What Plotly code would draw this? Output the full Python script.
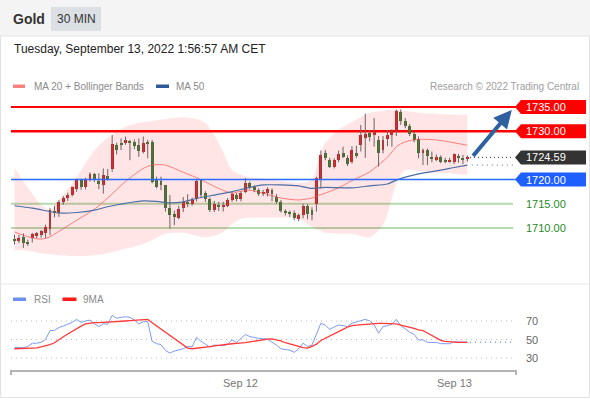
import plotly.graph_objects as go

W, H = 590, 400

# ---------------- data ----------------
open_ = [1707.6, 1707.4, 1708.2, 1707.2, 1708.0, 1708.3, 1708.5, 1708.9, 1709.9, 1713.6,
         1713.0, 1715.4, 1716.1, 1716.8, 1718.0, 1719.9, 1718.4, 1720.1, 1721.1, 1719.7,
         1718.9, 1720.7, 1722.1, 1727.2, 1727.6, 1727.5, 1727.8, 1727.8, 1727.2, 1725.8,
         1727.6, 1727.8, 1719.9, 1719.8, 1718.9, 1714.2, 1712.9, 1712.1, 1714.1, 1715.2,
         1715.0, 1716.0, 1719.9, 1717.2, 1715.9, 1713.7, 1714.7, 1714.5, 1714.6, 1715.7,
         1716.8, 1715.9, 1717.5, 1719.2, 1718.4, 1717.9, 1717.0, 1717.2, 1717.9, 1716.5,
         1715.4, 1713.5, 1713.2, 1713.2, 1711.9, 1712.7, 1714.5, 1713.7, 1714.9, 1720.0,
         1725.4, 1724.1, 1722.7, 1724.0, 1725.5, 1724.5, 1723.6, 1725.6, 1727.2, 1728.5,
         1729.6, 1729.3, 1728.2, 1726.1, 1728.4, 1729.3, 1730.3, 1734.0, 1732.2, 1731.1,
         1729.4, 1728.4, 1725.4, 1726.2, 1724.6, 1724.2, 1724.6, 1724.0, 1723.8, 1723.6,
         1724.9, 1724.5, 1724.3]
high = [1708.6, 1708.6, 1708.9, 1707.6, 1709.0, 1709.2, 1709.6, 1710.7, 1714.1, 1714.6,
        1715.8, 1716.6, 1717.3, 1718.6, 1720.2, 1720.2, 1720.4, 1721.5, 1721.4, 1721.3,
        1722.3, 1722.2, 1729.2, 1727.6, 1728.5, 1728.9, 1728.2, 1728.3, 1728.5, 1728.9,
        1728.2, 1728.2, 1720.6, 1720.6, 1718.9, 1716.8, 1713.6, 1714.6, 1716.4, 1717.0,
        1716.3, 1720.1, 1720.1, 1717.6, 1716.3, 1715.6, 1715.4, 1715.4, 1716.2, 1717.4,
        1717.2, 1717.6, 1720.3, 1719.6, 1718.8, 1718.2, 1717.9, 1718.4, 1718.2, 1717.0,
        1715.8, 1713.9, 1713.6, 1713.6, 1713.0, 1715.0, 1714.9, 1714.3, 1720.6, 1726.0,
        1726.1, 1724.5, 1724.4, 1726.0, 1726.8, 1725.0, 1726.9, 1727.0, 1731.3, 1733.6,
        1730.2, 1732.7, 1729.0, 1729.0, 1730.2, 1730.4, 1734.5, 1734.5, 1732.7, 1731.5,
        1729.9, 1728.9, 1726.4, 1726.4, 1725.8, 1725.2, 1725.0, 1724.5, 1724.5, 1725.4,
        1725.3, 1725.1, 1725.0]
low = [1706.6, 1706.9, 1705.9, 1706.3, 1707.0, 1707.9, 1708.0, 1707.9, 1708.5, 1712.2,
       1712.3, 1714.8, 1715.6, 1716.5, 1717.5, 1717.9, 1718.0, 1719.6, 1719.5, 1718.0,
       1717.1, 1719.8, 1721.6, 1725.2, 1726.1, 1727.2, 1724.0, 1726.3, 1724.7, 1725.4,
       1724.4, 1719.2, 1718.2, 1717.8, 1713.4, 1709.9, 1710.6, 1711.8, 1713.3, 1714.3,
       1714.6, 1715.5, 1716.4, 1715.4, 1713.3, 1713.3, 1713.5, 1713.4, 1714.3, 1715.4,
       1715.5, 1715.5, 1717.2, 1718.0, 1717.4, 1716.6, 1716.6, 1716.5, 1715.5, 1715.0,
       1713.2, 1712.6, 1712.3, 1711.6, 1711.4, 1712.0, 1711.8, 1711.6, 1713.4, 1718.2,
       1724.0, 1722.4, 1722.3, 1723.6, 1724.4, 1722.8, 1723.3, 1724.5, 1725.8, 1724.5,
       1727.9, 1726.8, 1722.7, 1725.4, 1726.9, 1726.8, 1729.0, 1731.3, 1730.6, 1729.0,
       1727.7, 1724.4, 1723.0, 1723.0, 1723.6, 1723.8, 1723.4, 1723.4, 1723.5, 1723.2,
       1723.5, 1723.2, 1723.7]
close = [1707.4, 1707.9, 1707.0, 1706.9, 1708.8, 1708.9, 1709.3, 1710.3, 1713.7, 1713.1,
         1715.4, 1716.1, 1716.8, 1718.4, 1719.9, 1718.5, 1720.1, 1721.1, 1719.9, 1719.1,
         1720.9, 1720.2, 1727.3, 1726.1, 1727.2, 1728.2, 1727.6, 1727.0, 1726.0, 1727.6,
         1727.4, 1719.6, 1718.4, 1718.9, 1714.1, 1712.7, 1712.3, 1713.9, 1715.3, 1715.0,
         1715.8, 1719.8, 1716.8, 1715.9, 1713.7, 1715.0, 1714.5, 1714.6, 1715.8, 1717.0,
         1715.9, 1717.3, 1719.2, 1718.4, 1717.9, 1717.0, 1717.5, 1718.0, 1717.0, 1715.4,
         1713.6, 1713.0, 1712.9, 1712.0, 1712.7, 1714.5, 1712.8, 1712.7, 1720.3, 1725.1,
         1724.4, 1722.7, 1724.1, 1725.2, 1724.7, 1723.2, 1726.2, 1724.9, 1729.2, 1729.5,
         1728.9, 1729.8, 1725.4, 1728.2, 1729.3, 1729.9, 1734.2, 1732.2, 1731.1, 1729.4,
         1728.2, 1725.4, 1726.2, 1724.9, 1724.3, 1724.6, 1723.7, 1723.8, 1724.1, 1725.2,
         1724.6, 1724.2, 1724.59]

band_x = [0, 3, 6, 8, 10, 14, 18, 21, 25, 29, 31, 34, 38, 41, 43, 45, 47, 49, 51, 53,
          56, 60, 64, 67, 68, 69, 70, 73, 76, 80, 83, 84, 85, 86, 88, 91, 95, 99, 102]
ma20 = [1709.2, 1708.2, 1707.7, 1708.2, 1709.3, 1711.6, 1713.9, 1716.2, 1719.6, 1722.3,
        1723.0, 1723.0, 1721.5, 1720.4, 1719.5, 1718.6, 1717.8, 1717.2, 1717.6, 1717.8,
        1717.2, 1716.2, 1715.8, 1716.2, 1716.6, 1716.9, 1717.2, 1718.3, 1719.8, 1721.6,
        1723.8, 1724.6, 1725.7, 1726.8, 1727.8, 1728.3, 1728.2, 1727.6, 1727.1]
bb_upper = [1722.4, 1718.3, 1714.8, 1713.7, 1715.8, 1720.5, 1726.1, 1728.6, 1730.9, 1731.9,
            1732.1, 1732.5, 1732.9, 1732.5, 1731.7, 1729.2, 1725.7, 1722.0, 1721.0, 1720.5,
            1720.3, 1719.7, 1719.3, 1719.9, 1722.4, 1725.7, 1727.6, 1730.3, 1731.9, 1733.8,
            1734.2, 1734.4, 1734.4, 1734.4, 1734.2, 1733.8, 1733.6, 1733.4, 1733.4]
bb_lower = [1705.5, 1705.3, 1704.8, 1704.6, 1704.4, 1704.2, 1704.4, 1704.8, 1705.7, 1706.7,
            1707.5, 1708.8, 1709.0, 1708.4, 1708.1, 1708.4, 1709.2, 1710.8, 1711.9, 1712.1,
            1712.1, 1712.1, 1711.9, 1710.2, 1709.8, 1709.4, 1709.0, 1708.8, 1708.8, 1708.1,
            1710.6, 1712.9, 1716.2, 1719.1, 1722.0, 1721.8, 1721.4, 1721.2, 1721.0]

ma50_x = [0, 4, 8, 10, 14, 18, 21, 25, 29, 32, 35, 38, 41, 45, 49, 53, 56, 60, 64, 67,
          70, 76, 80, 84, 86, 88, 91, 95, 99, 102]
ma50 = [1714.6, 1714.1, 1713.4, 1713.1, 1713.2, 1713.7, 1714.4, 1715.1, 1715.6, 1715.5,
        1715.2, 1715.4, 1716.1, 1716.8, 1717.5, 1718.4, 1718.9, 1718.9, 1718.7, 1718.2,
        1718.4, 1718.3, 1718.7, 1719.1, 1719.9, 1720.5, 1721.2, 1721.8, 1722.5, 1723.0]

rsi = [41.4, 41.3, 41.1, 42.5, 46.0, 46.0, 47.0, 50.0, 59.6, 59.8,
       63.0, 64.5, 66.5, 68.5, 71.8, 68.5, 70.0, 71.0, 67.0, 64.0,
       67.0, 66.5, 76.0, 73.0, 74.0, 74.6, 74.0, 71.0, 66.8, 69.3,
       69.3, 48.0, 45.5, 44.6, 38.0, 35.4, 37.5, 38.6, 40.0, 42.5,
       42.0, 52.5, 48.0, 45.0, 41.8, 44.0, 43.5, 43.2, 45.0, 49.6,
       46.8, 51.0, 55.4, 53.2, 52.0, 51.2, 50.8, 50.4, 47.0, 44.0,
       40.0, 39.0, 38.5, 36.1, 40.0, 46.0, 42.5, 44.0, 55.0, 67.5,
       65.5, 61.0, 63.5, 65.7, 65.0, 64.0, 67.5, 69.0, 70.0, 71.8,
       70.0, 66.0, 56.8, 64.0, 65.0, 66.5, 71.8, 65.0, 61.5, 58.0,
       55.5, 49.5, 49.6, 47.0, 46.8, 46.8, 45.5, 45.4, 45.4, 47.5,
       47.5, 47.0, 47.1]
rsi_ma9 = [40.0, 40.1, 40.3, 40.5, 40.7, 41.0, 42.0, 43.2, 44.5, 46.5,
           50.0, 53.0, 56.0, 59.0, 62.0, 64.5, 66.8, 67.6, 68.2, 68.2,
           68.4, 68.6, 68.8, 69.2, 69.6, 70.0, 70.4, 70.8, 71.2, 71.6,
           71.8, 68.0, 64.5, 61.0, 57.5, 54.0, 50.5, 47.0, 43.5, 40.7,
           40.0, 40.4, 40.8, 41.5, 42.3, 43.0, 43.8, 44.5, 45.0, 45.4,
           45.8, 46.0, 46.6, 47.4, 48.3, 49.0, 50.0, 50.5, 50.7, 49.6,
           48.5, 46.5, 45.4, 44.0, 42.5, 41.2, 40.7, 42.5, 45.0, 48.9,
           51.5, 54.0, 56.5, 58.5, 61.0, 63.5, 65.0, 65.5, 66.0, 66.4,
           66.8, 67.2, 67.5, 67.4, 67.2, 67.0, 66.8, 65.5, 64.5, 63.2,
           62.0, 60.5, 59.6, 57.0, 54.5, 51.4, 49.0, 47.9, 47.3, 46.8,
           46.8, 46.8, 46.8]

resistances = [1735.00, 1730.00]
support_tagged = 1720.00
supports_plain = [1715.00, 1710.00]
rsi_levels = [70, 50, 30]
xtick_vals = [51, 99]
xtick_text = ["Sep 12", "Sep 13"]
title = "Gold"
period = "30 MIN"
stamp = "Tuesday, September 13, 2022 1:56:57 AM CET"

# ---------------- layout helpers ----------------
n = len(close)
idx = list(range(n))
last = close[-1]
FONT = "Liberation Sans, Arial, sans-serif"


def px(x):
    return x / W


def py(y):
    return 1 - y / H


XL, XR = 11, 516                      # plot area, pixels
x_range = [(XL - 14.5) / 4.44, (XR - 14.5) / 4.44]
y_range = [1702.98, 1737.27]
rsi_range = [17.03, 81.89]
dots_end = x_range[1] - 0.7

RED_UP = "#e8171b"
GREEN_DN = "#2b7f2b"

fig = go.Figure()

# Bollinger band fill
fig.add_trace(go.Scatter(x=band_x, y=bb_upper, mode="lines",
                         line=dict(width=0, shape="spline", smoothing=0.8),
                         hoverinfo="skip", xaxis="x", yaxis="y"))
fig.add_trace(go.Scatter(x=band_x, y=bb_lower, mode="lines", fill="tonexty",
                         fillcolor="rgba(255,0,0,0.10)",
                         line=dict(width=0, shape="spline", smoothing=0.8),
                         hoverinfo="skip", xaxis="x", yaxis="y"))
fig.add_trace(go.Scatter(x=band_x, y=ma20, mode="lines",
                         line=dict(color="rgba(255,90,90,0.75)", width=1, shape="spline", smoothing=0.8),
                         xaxis="x", yaxis="y"))
fig.add_trace(go.Scatter(x=ma50_x, y=ma50, mode="lines",
                         line=dict(color="#4b6ea8", width=1.2, shape="spline", smoothing=0.8),
                         xaxis="x", yaxis="y"))

# candles: wicks + bodies
wx, wy = [], []
for i in idx:
    wx += [i, i, None]
    wy += [low[i], high[i], None]
fig.add_trace(go.Scatter(x=wx, y=wy, mode="lines", line=dict(color="#6a6262", width=1),
                         hoverinfo="skip", xaxis="x", yaxis="y"))
body_base = [min(o, c) for o, c in zip(open_, close)]
body_h = [max(abs(c - o), 0.18) for o, c in zip(open_, close)]
body_col = [RED_UP if c >= o else GREEN_DN for o, c in zip(open_, close)]
fig.add_trace(go.Bar(x=idx, y=body_h, base=body_base, width=0.66,
                     marker=dict(color=body_col, line=dict(width=0)),
                     xaxis="x", yaxis="y"))

# RSI panel
fig.add_trace(go.Scatter(x=idx, y=rsi, mode="lines", line=dict(color="#7e9bf0", width=1),
                         xaxis="x2", yaxis="y2"))
fig.add_trace(go.Scatter(x=idx, y=rsi_ma9, mode="lines", line=dict(color="#ff3838", width=1.3),
                         xaxis="x2", yaxis="y2"))

shapes = []
annos = []

# header
shapes.append(dict(type="rect", xref="paper", yref="paper", x0=0, x1=1, y0=py(36), y1=1,
                   fillcolor="#f4f4f4", line=dict(width=0), layer="below"))
shapes.append(dict(type="rect", xref="paper", yref="paper", x0=px(51), x1=px(101),
                   y0=py(31), y1=py(7), fillcolor="#dcdfe4", line=dict(width=0), layer="below"))
# frame & separator
shapes.append(dict(type="rect", xref="paper", yref="paper", x0=px(0.5), x1=px(589.5),
                   y0=py(397.5), y1=py(36), line=dict(color="#e2e2e2", width=1), layer="below"))
shapes.append(dict(type="line", xref="paper", yref="paper", x0=px(0.5), x1=px(589.5),
                   y0=py(284), y1=py(284), line=dict(color="#e8e8e8", width=1), layer="below"))

annos.append(dict(text="<b>%s</b>" % title, x=px(11), y=py(19), xref="paper", yref="paper",
                  xanchor="left", yanchor="middle", showarrow=False,
                  font=dict(family=FONT, size=14, color="#333333")))
annos.append(dict(text=period, x=px(76), y=py(19), xref="paper", yref="paper",
                  xanchor="center", yanchor="middle", showarrow=False,
                  font=dict(family=FONT, size=12, color="#333333")))
annos.append(dict(text=stamp, x=px(12), y=py(49), xref="paper", yref="paper",
                  xanchor="left", yanchor="middle", showarrow=False,
                  font=dict(family=FONT, size=12, color="#222222")))

# main legend
shapes.append(dict(type="rect", xref="paper", yref="paper", x0=px(13), x1=px(25),
                   y0=py(88), y1=py(84.5), fillcolor="#ff8080", line=dict(width=0)))
shapes.append(dict(type="rect", xref="paper", yref="paper", x0=px(156), x1=px(169),
                   y0=py(88), y1=py(84.5), fillcolor="#2f5a9a", line=dict(width=0)))
annos.append(dict(text="MA 20 + Bollinger Bands", x=px(32), y=py(86.5), xref="paper", yref="paper",
                  xanchor="left", yanchor="middle", showarrow=False,
                  font=dict(family=FONT, size=10, color="#8a8a8a")))
annos.append(dict(text="MA 50", x=px(174), y=py(86.5), xref="paper", yref="paper",
                  xanchor="left", yanchor="middle", showarrow=False,
                  font=dict(family=FONT, size=10, color="#8a8a8a")))
annos.append(dict(text="Research © 2022 Trading Central", x=px(581), y=py(86.5), xref="paper",
                  yref="paper", xanchor="right", yanchor="middle", showarrow=False,
                  font=dict(family=FONT, size=10, color="#a0a0a0")))

# level lines
for j, lv in enumerate(resistances):
    shapes.append(dict(type="line", xref="paper", yref="y", x0=px(XL), x1=px(XR), y0=lv, y1=lv,
                       line=dict(color="#ff0000", width=2 if j == 0 else 2.5), layer="below"))
shapes.append(dict(type="line", xref="paper", yref="y", x0=px(XL), x1=px(XR),
                   y0=support_tagged, y1=support_tagged,
                   line=dict(color="#2a6cff", width=1.5), layer="above"))
for lv in supports_plain:
    shapes.append(dict(type="line", xref="paper", yref="y", x0=px(XL), x1=px(513), y0=lv, y1=lv,
                       line=dict(color="#b3dbae", width=2), layer="below"))
    annos.append(dict(text="%.2f" % lv, x=px(524), y=lv, xref="paper", yref="y",
                      xanchor="left", yanchor="middle", showarrow=False,
                      font=dict(family=FONT, size=11, color="#1f8a1f")))

# dotted continuations
shapes.append(dict(type="line", xref="x", yref="y", x0=n - 1 + 0.6, x1=dots_end, y0=last, y1=last,
                   line=dict(color="#333333", width=1, dash="1px,3px")))
shapes.append(dict(type="line", xref="x", yref="y", x0=n, x1=dots_end, y0=ma50[-1], y1=ma50[-1],
                   line=dict(color="#4b6ea8", width=1, dash="1px,4px")))

# price tags
half = 7 / 4.84


def tag(level, color, label):
    p0, p1 = level - half, level + half
    path = "M %f,%f L %f,%f L %f,%f L %f,%f L %f,%f Z" % (
        px(515), level, px(521), p1, px(586), p1, px(586), p0, px(521), p0)
    shapes.append(dict(type="path", xref="paper", yref="y", path=path,
                       fillcolor=color, line=dict(width=0)))
    annos.append(dict(text=label, x=px(524), y=level, xref="paper", yref="y",
                      xanchor="left", yanchor="middle", showarrow=False,
                      font=dict(family=FONT, size=11, color="#ffffff")))


for lv in resistances:
    tag(lv, "#ff0000", "%.2f" % lv)
tag(last, "#333333", "%.2f" % last)
tag(support_tagged, "#1f5fff", "%.2f" % support_tagged)

# projection arrow towards first resistance
annos.append(dict(text="", x=n - 1 + 10, y=resistances[0] - 0.6, xref="x", yref="y",
                  ax=n - 1 + 1, ay=last, axref="x", ayref="y", showarrow=True,
                  arrowhead=2, arrowsize=0.9, arrowwidth=4, arrowcolor="#2f60a0", standoff=0))

# RSI legend
shapes.append(dict(type="rect", xref="paper", yref="paper", x0=px(13), x1=px(26),
                   y0=py(301), y1=py(297.5), fillcolor="#6f8ff0", line=dict(width=0)))
shapes.append(dict(type="rect", xref="paper", yref="paper", x0=px(62.5), x1=px(76.5),
                   y0=py(301), y1=py(297.5), fillcolor="#ff1a1a", line=dict(width=0)))
annos.append(dict(text="RSI", x=px(32), y=py(299.5), xref="paper", yref="paper",
                  xanchor="left", yanchor="middle", showarrow=False,
                  font=dict(family=FONT, size=10, color="#8a8a8a")))
annos.append(dict(text="9MA", x=px(81), y=py(299.5), xref="paper", yref="paper",
                  xanchor="left", yanchor="middle", showarrow=False,
                  font=dict(family=FONT, size=10, color="#8a8a8a")))

# RSI grid
for lv in rsi_levels:
    shapes.append(dict(type="line", xref="paper", yref="y2", x0=px(XL), x1=px(XR), y0=lv, y1=lv,
                       line=dict(color="#bdbdbd", width=1, dash="1px,4px"), layer="below"))
    annos.append(dict(text=str(lv), x=px(524), y=lv, xref="paper", yref="y2",
                      xanchor="left", yanchor="middle", showarrow=False,
                      font=dict(family=FONT, size=11, color="#666666")))
shapes.append(dict(type="line", xref="x2", yref="y2", x0=n - 1 + 0.6, x1=dots_end,
                   y0=rsi[-1], y1=rsi[-1], line=dict(color="#5f82e8", width=1.2, dash="1px,4px")))

# x axis end ticks
for xp in (XL, XR):
    shapes.append(dict(type="line", xref="paper", yref="paper", x0=px(xp), x1=px(xp),
                       y0=py(370), y1=py(375), line=dict(color="#b4b4b4", width=2)))
for tv, tt in zip(xtick_vals, xtick_text):
    annos.append(dict(text=tt, x=tv, y=py(383), xref="x2", yref="paper",
                      xanchor="center", yanchor="middle", showarrow=False,
                      font=dict(family=FONT, size=11, color="#777777")))

fig.update_layout(
    width=W, height=H, margin=dict(l=0, r=0, t=0, b=0),
    paper_bgcolor="#ffffff", plot_bgcolor="rgba(0,0,0,0)",
    showlegend=False, bargap=0,
    xaxis=dict(domain=[px(XL), px(XR)], range=x_range, visible=False, anchor="y", fixedrange=True),
    yaxis=dict(domain=[py(262), py(96)], range=y_range, visible=False, anchor="x", fixedrange=True),
    xaxis2=dict(domain=[px(XL), px(XR)], range=x_range, anchor="y2", showgrid=False,
                zeroline=False, showline=True, linecolor="#b4b4b4", linewidth=2,
                showticklabels=False, ticks="", fixedrange=True),
    yaxis2=dict(domain=[py(370), py(310)], range=rsi_range, visible=False, anchor="x2",
                fixedrange=True),
    shapes=shapes, annotations=annos,
    font=dict(family=FONT),
)

fig.write_html("out.html", config={"displayModeBar": False},
               post_script="document.body.style.margin='0';document.body.style.padding='0';")
